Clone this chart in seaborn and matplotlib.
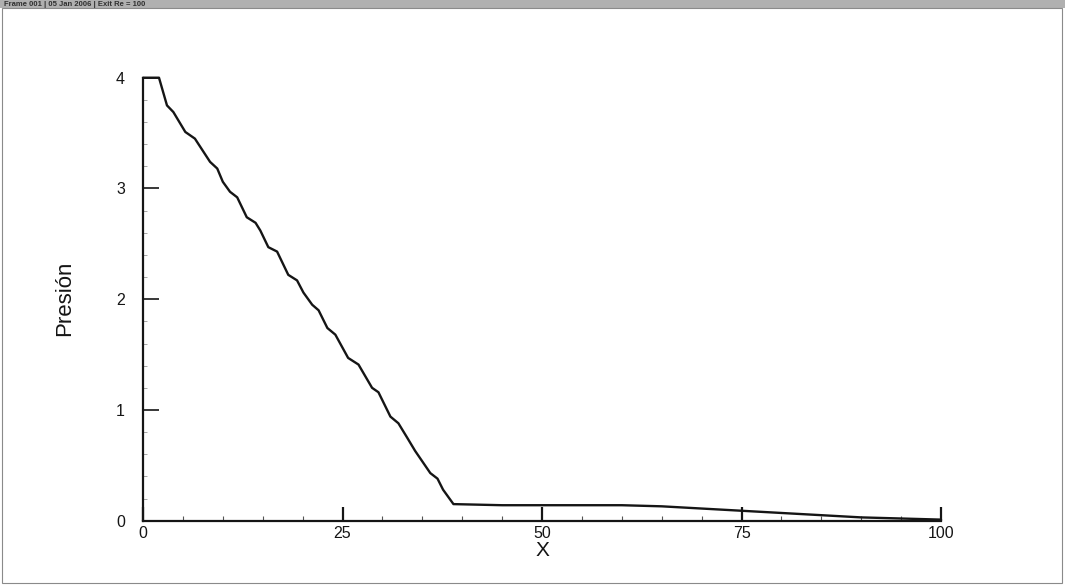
import matplotlib
matplotlib.use("Agg")
import matplotlib.pyplot as plt
from matplotlib.patches import Rectangle
from matplotlib.ticker import MultipleLocator
import numpy as np
import pandas as pd
import seaborn as sns

# ── Datos ────────────────────────────────────────────────────────────────────

posicion_x = [0, 2.0, 3.0, 3.8, 5.3, 6.5, 8.4, 9.3, 10.0, 10.9, 11.8, 13.0,
              14.1, 14.7, 15.7, 16.8, 18.2, 19.3, 20.1, 21.2, 22.0, 23.1,
              24.1, 25.7, 27.0, 28.7, 29.5, 31.0, 32.0, 33.1, 34.1, 36.0,
              36.9, 37.6, 38.5, 38.9, 45, 50, 55, 60, 65, 70, 75, 80, 85,
              90, 95, 100]
presion = [4.0, 4.0, 3.75, 3.69, 3.51, 3.45, 3.24, 3.18, 3.06, 2.97, 2.92,
           2.74, 2.69, 2.62, 2.47, 2.43, 2.22, 2.17, 2.06, 1.95, 1.90, 1.74,
           1.68, 1.47, 1.41, 1.20, 1.16, 0.94, 0.88, 0.75, 0.63, 0.43, 0.38,
           0.28, 0.19, 0.15, 0.14, 0.14, 0.14, 0.14, 0.13, 0.11, 0.09, 0.07,
           0.05, 0.03, 0.02, 0.01]

xticks = [0, 25, 50, 75, 100]
yticks = [0, 1, 2, 3, 4]
encabezado = "Frame 001 | 05 Jan 2006 | Exit Re = 100"

sns.set_style("ticks")
plt.rcParams["font.family"] = ["Liberation Sans", "DejaVu Sans"]

df = pd.DataFrame({"X": posicion_x, "Presión": presion})

fig = plt.figure(figsize=(10.65, 5.86), dpi=100)
ax = fig.add_axes([0.1343, 0.1114, 0.7493, 0.8674 - 0.1114])

sns.lineplot(data=df, x="X", y="Presión", ax=ax, color="#151515",
             linewidth=1.7, estimator=None, sort=False, clip_on=False)

ax.set_xlim(0, 100)
ax.set_ylim(0, 4)
sns.despine(ax=ax)
for s in ("left", "bottom"):
    ax.spines[s].set_linewidth(1.6)
    ax.spines[s].set_color("#151515")

ax.set_xticks(xticks)
ax.set_xticklabels([str(t) for t in xticks])
ax.set_yticks(yticks)
ax.set_yticklabels([str(t) for t in yticks])
ax.xaxis.set_minor_locator(MultipleLocator(5))
ax.yaxis.set_minor_locator(MultipleLocator(0.2))

ax.tick_params(axis="x", which="major", direction="in", length=10, width=1.6,
               pad=4, labelsize=11.5, colors="#151515")
ax.tick_params(axis="x", which="minor", direction="in", length=3.5, width=0.8,
               color="#555555")
ax.tick_params(axis="y", which="major", direction="in", length=11.5, width=1.2,
               pad=13, labelsize=11.5, colors="#151515")
ax.tick_params(axis="y", which="minor", direction="in", length=3, width=0.6,
               color="#999999")

ax.set_xlabel("X", fontsize=15, color="#151515")
ax.xaxis.set_label_coords(0.5, -0.046)
ax.set_ylabel("Presión", fontsize=16, color="#151515",
              family=["Liberation Sans Narrow", "Liberation Sans", "DejaVu Sans"])
ax.yaxis.set_label_coords(-0.085, 0.503)

# marco de la figura y barra de cabecera
fig.patches.append(Rectangle((0, 1 - 8 / 586), 1, 8 / 586, transform=fig.transFigure,
                             facecolor="#b0b0b0", edgecolor="none", zorder=0))
fig.patches.append(Rectangle((2 / 1065, 3 / 586), 1060 / 1065, 575 / 586,
                             transform=fig.transFigure, facecolor="none",
                             edgecolor="#8a8a8a", linewidth=0.8))
fig.text(4 / 1065, 1 - 4 / 586, encabezado, fontsize=5.5, color="#303030",
         va="center", ha="left", fontweight="bold")

fig.savefig("out.png", dpi=100)
